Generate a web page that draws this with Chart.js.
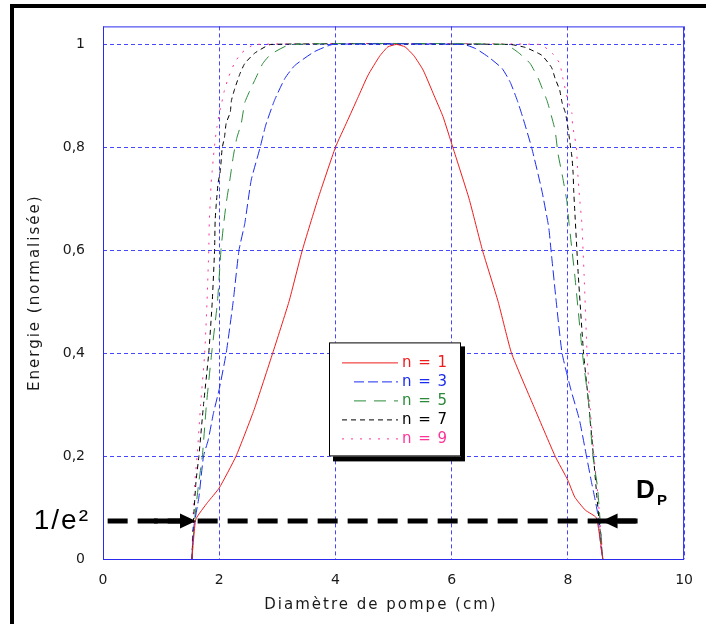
<!DOCTYPE html>
<html>
<head>
<meta charset="utf-8">
<script src="https://cdn.jsdelivr.net/npm/chart.js@4"></script>
<style>
  html, body { margin: 0; padding: 0; background: #fff; }
  #wrap { position: relative; width: 706px; height: 624px; overflow: hidden; }
  #frame { position: absolute; left: 10px; top: 4px; width: 720px; height: 640px; border-left: 4px solid #000; border-top: 4px solid #000; }
  #myChart { position: absolute; left: 0; top: 0; }
</style>
</head>
<body>
<div id="wrap">
  <div id="frame"></div>
  <canvas id="myChart" width="706" height="624"></canvas>
</div>
<script>
// axis ticks
const xTicks = [0, 2, 4, 6, 8, 10];
const yTicks = [0, 0.2, 0.4, 0.6, 0.8, 1];
const xTitle = "Diamètre de pompe (cm)";
const yTitle = "Energie (normalisée)";

const seriesLabels = ["n = 1", "n = 3", "n = 5", "n = 7", "n = 9"];

// n = 1
const n1X = [1.53, 1.56, 1.6, 1.8, 2.0, 2.29, 2.6, 2.92, 3.2, 3.43, 3.7, 4.0, 4.2, 4.38, 4.56, 4.76, 4.9, 5.05, 5.2, 5.35, 5.51, 5.7, 5.85, 6.02, 6.3, 6.53, 6.8, 7.03, 7.4, 7.78, 8.0, 8.12, 8.3, 8.49, 8.6];
const n1Y = [0, 0.04, 0.078, 0.11, 0.138, 0.2, 0.29, 0.4, 0.5, 0.6, 0.7, 0.8, 0.85, 0.895, 0.94, 0.977, 0.995, 1.0, 0.995, 0.978, 0.95, 0.9, 0.86, 0.8, 0.7, 0.6, 0.5, 0.4, 0.3, 0.2, 0.153, 0.12, 0.095, 0.08, 0];

// n = 3
const n3X = [1.53, 1.56, 1.65, 1.73, 1.81, 1.9, 2.0, 2.12, 2.24, 2.34, 2.44, 2.55, 2.7, 2.8, 2.95, 3.13, 3.3, 3.64, 3.96, 6.2, 6.41, 6.64, 6.87, 7.01, 7.13, 7.23, 7.38, 7.55, 7.67, 7.71, 7.8, 7.9, 8.05, 8.2, 8.32, 8.4, 8.46, 8.51, 8.57, 8.6];
const n3Y = [0, 0.06, 0.12, 0.2, 0.231, 0.283, 0.33, 0.4, 0.5, 0.6, 0.652, 0.736, 0.798, 0.843, 0.891, 0.934, 0.959, 0.986, 1.0, 1.0, 0.992, 0.975, 0.953, 0.926, 0.891, 0.856, 0.798, 0.717, 0.645, 0.6, 0.5, 0.4, 0.33, 0.27, 0.2, 0.153, 0.12, 0.09, 0.023, 0];

// n = 5
const n5X = [1.53, 1.58, 1.65, 1.71, 1.78, 1.87, 1.97, 2.03, 2.07, 2.12, 2.19, 2.24, 2.3, 2.38, 2.44, 2.53, 2.61, 2.75, 2.89, 3.23, 6.92, 7.15, 7.35, 7.49, 7.55, 7.64, 7.69, 7.78, 7.83, 7.91, 7.98, 8.02, 8.12, 8.25, 8.36, 8.43, 8.51, 8.57, 8.6];
const n5Y = [0, 0.08, 0.15, 0.2, 0.3, 0.4, 0.5, 0.6, 0.645, 0.691, 0.742, 0.781, 0.817, 0.847, 0.887, 0.911, 0.93, 0.963, 0.981, 1.0, 1.0, 0.984, 0.963, 0.934, 0.917, 0.891, 0.872, 0.833, 0.788, 0.742, 0.697, 0.652, 0.55, 0.4, 0.3, 0.2, 0.14, 0.05, 0];

// n = 7
const n7X = [1.53, 1.56, 1.6, 1.65, 1.73, 1.82, 1.88, 1.92, 1.93, 1.95, 1.98, 2.02, 2.05, 2.09, 2.12, 2.19, 2.21, 2.27, 2.36, 2.44, 2.61, 2.89, 7.0, 7.27, 7.55, 7.72, 7.78, 7.86, 7.9, 7.96, 8.0, 8.03, 8.07, 8.09, 8.1, 8.12, 8.18, 8.27, 8.36, 8.44, 8.5, 8.55, 8.6];
const n7Y = [0, 0.08, 0.15, 0.2, 0.3, 0.4, 0.5, 0.6, 0.658, 0.691, 0.73, 0.755, 0.798, 0.819, 0.847, 0.868, 0.891, 0.915, 0.944, 0.963, 0.983, 1.0, 1.0, 0.994, 0.979, 0.955, 0.934, 0.911, 0.887, 0.866, 0.839, 0.814, 0.781, 0.75, 0.717, 0.674, 0.55, 0.4, 0.3, 0.2, 0.12, 0.06, 0];

// n = 9
const n9X = [1.53, 1.55, 1.58, 1.62, 1.68, 1.75, 1.79, 1.82, 1.83, 1.85, 1.86, 1.88, 1.9, 1.93, 1.96, 2.0, 2.04, 2.09, 2.16, 2.26, 2.38, 2.61, 7.52, 7.73, 7.86, 7.91, 8.0, 8.07, 8.08, 8.12, 8.15, 8.17, 8.2, 8.24, 8.28, 8.33, 8.38, 8.45, 8.52, 8.56, 8.6];
const n9Y = [0, 0.08, 0.15, 0.2, 0.3, 0.4, 0.5, 0.6, 0.658, 0.703, 0.73, 0.755, 0.781, 0.814, 0.839, 0.866, 0.885, 0.911, 0.936, 0.963, 0.983, 1.0, 1.0, 0.983, 0.963, 0.936, 0.891, 0.866, 0.843, 0.819, 0.794, 0.75, 0.703, 0.654, 0.55, 0.4, 0.3, 0.2, 0.12, 0.06, 0];

// 1/e² marker
const levelY = 0.074;
const dashFromX = 0.08;
const dashToX = 9.17;
const arrowLeftX = 1.6;
const arrowRightX = 8.58;

const colors = ["#ee1c1c", "#1a2cf0", "#2a8a3a", "#000000", "#ff3399"];
const dashes = [[], [10, 4], [12, 8], [5, 4], [2, 7]];

function pts(xs, ys) {
  return xs.map((x, i) => ({ x: x, y: ys[i] }));
}

const allX = [n1X, n3X, n5X, n7X, n9X];
const allY = [n1Y, n3Y, n5Y, n7Y, n9Y];

const datasets = seriesLabels.map((label, i) => ({
  label: label,
  data: pts(allX[i], allY[i]),
  borderColor: colors[i],
  borderWidth: 1,
  borderDash: dashes[i],
  pointRadius: 0,
  tension: 0.15,
  fill: false,
}));

const font = "'DejaVu Sans', sans-serif";
const gridColor = "#4646ff";

// border of plot, titles, 1/e² line, arrows, legend box
const extras = {
  id: "extras",
  afterDatasetsDraw(chart) {
    const ctx = chart.ctx;
    const a = chart.chartArea;
    const xs = chart.scales.x;
    const ys = chart.scales.y;

    ctx.save();
    ctx.strokeStyle = "#2a2aee";
    ctx.lineWidth = 1;
    ctx.strokeRect(a.left + 0.5, a.top + 0.5, a.right - a.left - 1, a.bottom - a.top);

    // axis titles, spaced out like the original
    ctx.fillStyle = "#1a1a1a";
    ctx.font = "15px " + font;
    ctx.letterSpacing = "2px";
    ctx.textAlign = "center";
    ctx.textBaseline = "middle";
    ctx.fillText(xTitle, 381, 605);
    ctx.save();
    ctx.translate(35, (a.top + a.bottom) / 2);
    ctx.rotate(-Math.PI / 2);
    ctx.fillText(yTitle, 0, 0);
    ctx.restore();

    // dashed level line
    const ly = Math.round(ys.getPixelForValue(levelY));
    ctx.strokeStyle = "#000";
    ctx.lineWidth = 5;
    ctx.setLineDash([20, 10]);
    ctx.beginPath();
    ctx.moveTo(xs.getPixelForValue(dashFromX), ly);
    ctx.lineTo(xs.getPixelForValue(dashToX), ly);
    ctx.stroke();
    ctx.setLineDash([]);

    // arrows
    const lt = xs.getPixelForValue(arrowLeftX);
    const rt = xs.getPixelForValue(arrowRightX);
    ctx.fillStyle = "#000";
    ctx.fillRect(lt - 42, ly - 2.5, 28, 5);
    ctx.beginPath();
    ctx.moveTo(lt, ly);
    ctx.lineTo(lt - 16, ly - 7.5);
    ctx.lineTo(lt - 16, ly + 7.5);
    ctx.closePath();
    ctx.fill();
    ctx.fillRect(rt + 14, ly - 2.5, 22, 5);
    ctx.beginPath();
    ctx.moveTo(rt, ly);
    ctx.lineTo(rt + 16, ly - 7.5);
    ctx.lineTo(rt + 16, ly + 7.5);
    ctx.closePath();
    ctx.fill();

    // labels
    ctx.textAlign = "right";
    ctx.letterSpacing = "2px";
    ctx.font = "28px 'Liberation Sans', Arial, sans-serif";
    ctx.fillText("1/e²", 90, ly);
    ctx.letterSpacing = "0px";
    ctx.textAlign = "left";
    ctx.font = "bold 26px 'Liberation Sans', Arial, sans-serif";
    ctx.fillText("D", 636, ly - 30);
    ctx.font = "bold 15px 'Liberation Sans', Arial, sans-serif";
    ctx.fillText("P", 657, ly - 20);

    // legend box with shadow
    const bx = a.left + 226, by = a.top + 316, bw = 132, bh = 114;
    ctx.fillStyle = "#000";
    ctx.fillRect(bx + 4, by + 4, bw, bh + 1);
    ctx.fillStyle = "#fff";
    ctx.fillRect(bx, by, bw, bh);
    ctx.strokeStyle = "#000";
    ctx.lineWidth = 1;
    ctx.strokeRect(bx + 0.5, by + 0.5, bw - 1, bh - 1);
    ctx.font = "15px " + font;
    ctx.letterSpacing = "1px";
    chart.data.datasets.forEach((ds, i) => {
      const ry = by + 20 + i * 19;
      const start = (i === 1 || i === 2) ? bx + 25 : bx + 13;
      ctx.strokeStyle = ds.borderColor;
      ctx.setLineDash(ds.borderDash);
      ctx.beginPath();
      ctx.moveTo(start, ry + 0.5);
      ctx.lineTo(bx + 69, ry + 0.5);
      ctx.stroke();
      ctx.setLineDash([]);
      ctx.fillStyle = ds.borderColor;
      ctx.fillText(ds.label, bx + 73, ry + 1);
    });
    ctx.restore();
  },
};

const ctx = document.getElementById("myChart");

new Chart(ctx, {
  type: "line",
  data: { datasets: datasets },
  plugins: [extras],
  options: {
    responsive: false,
    animation: false,
    layout: { padding: { left: 0, right: 16, top: 26, bottom: 0 } },
    plugins: {
      legend: { display: false },
      tooltip: { enabled: false },
    },
    scales: {
      x: {
        type: "linear",
        min: 0,
        max: 10,
        afterBuildTicks(scale) {
          scale.ticks = xTicks.map((v) => ({ value: v }));
        },
        afterFit(scale) {
          scale.height = 65;
        },
        ticks: {
          color: "#1a1a1a",
          padding: 13,
          maxRotation: 0,
          font: { family: font, size: 14 },
        },
        grid: {
          color: gridColor,
          drawTicks: false,
        },
        border: { display: false, dash: [4, 3] },
      },
      y: {
        type: "linear",
        min: 0,
        max: 1.035,
        afterBuildTicks(scale) {
          scale.ticks = yTicks.map((v) => ({ value: v }));
        },
        afterFit(scale) {
          scale.width = 103;
        },
        ticks: {
          color: "#1a1a1a",
          padding: 18,
          font: { family: font, size: 14 },
          callback(value) {
            return String(value).replace(".", ",");
          },
        },
        grid: {
          color: gridColor,
          drawTicks: false,
        },
        border: { display: false, dash: [4, 3] },
      },
    },
  },
});
</script>
</body>
</html>
